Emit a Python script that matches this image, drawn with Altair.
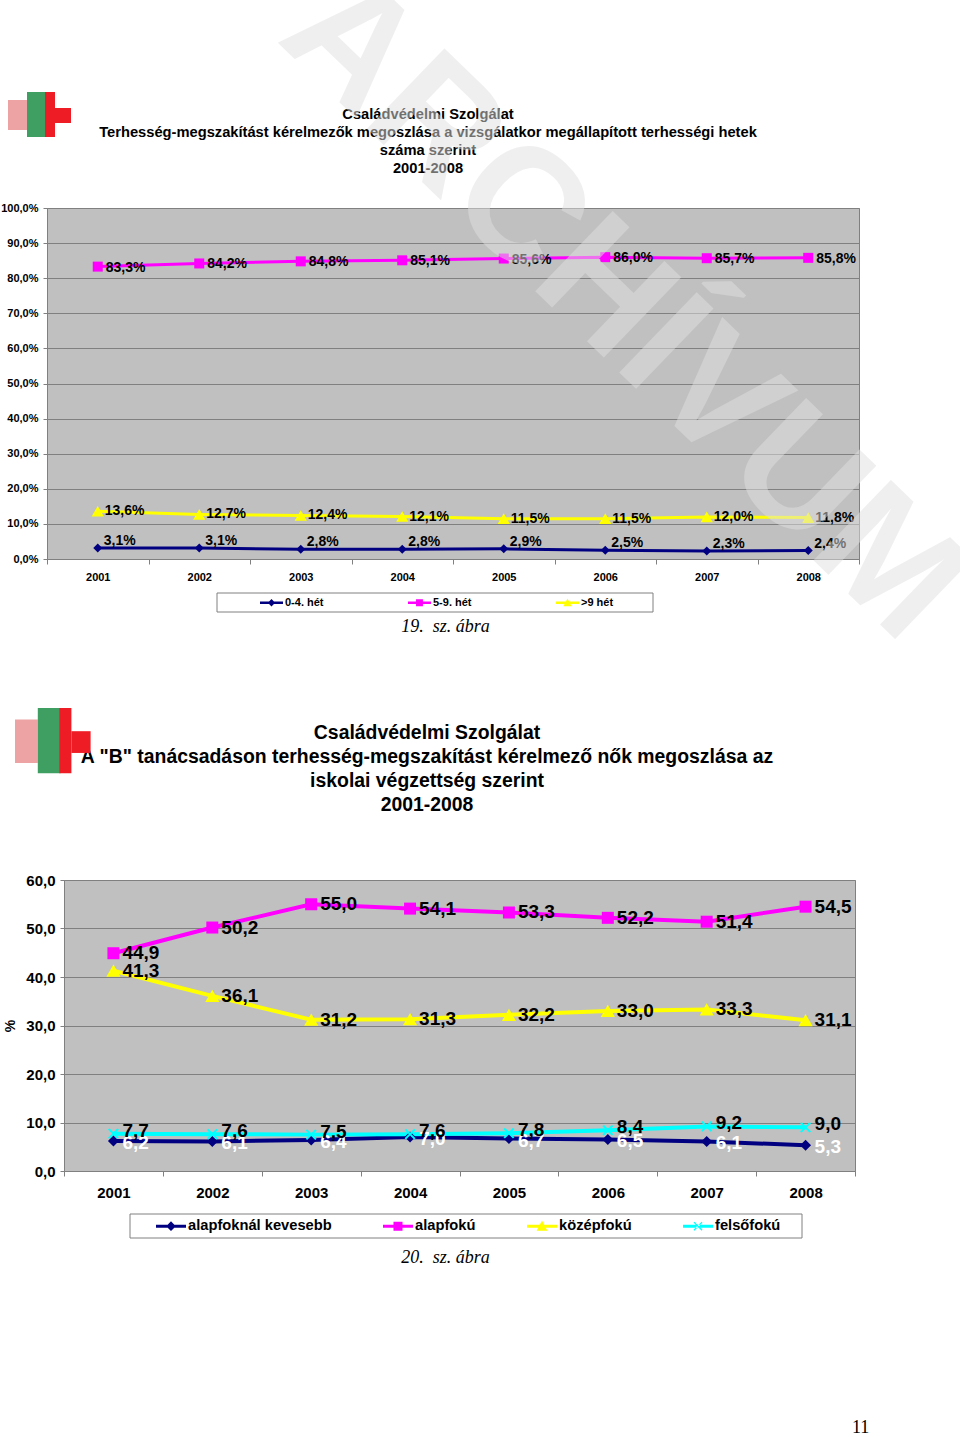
import altair as alt
import pandas as pd

SANS = "Liberation Sans"
SERIF = "Liberation Serif"
GRID = "#808080"

years = ["2001", "2002", "2003", "2004", "2005", "2006", "2007", "2008"]

# --- chart 19: gestational weeks ---
top_series = ["0-4. hét", "5-9. hét", ">9 hét"]
top_colors = ["#000080", "#FF00FF", "#FFFF00"]
wk_0_4 = [3.1, 3.1, 2.8, 2.8, 2.9, 2.5, 2.3, 2.4]
wk_5_9 = [83.3, 84.2, 84.8, 85.1, 85.6, 86.0, 85.7, 85.8]
wk_over_9 = [13.6, 12.7, 12.4, 12.1, 11.5, 11.5, 12.0, 11.8]
top_title = ["Családvédelmi Szolgálat",
             "Terhesség-megszakítást kérelmezők megoszlása a vizsgálatkor megállapított terhességi hetek",
             "száma szerint",
             "2001-2008"]
top_caption = "19.\u00a0 sz. ábra"

# --- chart 20: education ---
bot_series = ["alapfoknál kevesebb", "alapfokú", "középfokú", "felsőfokú"]
bot_colors = ["#000080", "#FF00FF", "#FFFF00", "#00FFFF"]
edu_below_basic = [6.2, 6.1, 6.4, 7.0, 6.7, 6.5, 6.1, 5.3]
edu_basic = [44.9, 50.2, 55.0, 54.1, 53.3, 52.2, 51.4, 54.5]
edu_secondary = [41.3, 36.1, 31.2, 31.3, 32.2, 33.0, 33.3, 31.1]
edu_higher = [7.7, 7.6, 7.5, 7.6, 7.8, 8.4, 9.2, 9.0]
bot_title = ["Családvédelmi Szolgálat",
             "A \"B\" tanácsadáson terhesség-megszakítást kérelmező nők megoszlása az",
             "iskolai végzettség szerint",
             "2001-2008"]
bot_caption = "20.\u00a0 sz. ábra"
page_number = "11"
watermark = "ARCHÍVUM"


def make_df(names, lists, suffix):
    rows = []
    for s, vals in zip(names, lists):
        for y, v in zip(years, vals):
            rows.append({"year": y, "series": s, "value": v,
                         "label": f"{v:.1f}".replace(".", ",") + suffix})
    return pd.DataFrame(rows)


top_df = make_df(top_series, [wk_0_4, wk_5_9, wk_over_9], "%")
bot_df = make_df(bot_series, [edu_below_basic, edu_basic, edu_secondary, edu_higher], "")
one = pd.DataFrame({"k": [0]})

# legend symbol paths: line segment + marker
P_LINE = "M-1,-0.1H1V0.1H-1Z"
P_DIAMOND = P_LINE + "M0,-0.32L0.32,0L0,0.32L-0.32,0Z"
P_SQUARE = P_LINE + "M-0.3,-0.3H0.3V0.3H-0.3Z"
P_TRI = P_LINE + "M0,-0.38L0.36,0.3H-0.36Z"
P_X = (P_LINE + "M-0.3,-0.24L-0.24,-0.3L0.3,0.24L0.24,0.3Z"
       "M0.3,-0.24L0.24,-0.3L-0.3,0.24L-0.24,0.3Z")
X_MARK = "M-1,-1L1,1M-1,1L1,-1"


def deco_rect(x, x2, y, y2, color, stroke=None):
    kw = {"fill": color}
    if stroke:
        kw.update(stroke=stroke, strokeWidth=1)
    return alt.Chart(one).mark_rect(**kw).encode(
        x=alt.value(x), x2=alt.value(x2), y=alt.value(y), y2=alt.value(y2))


def logo(x0, y0, sx, sy):
    # simplified logo: striped left arm, green face, red cross
    def r(a, b, c, d, col):
        return deco_rect(x0 + a * sx, x0 + b * sx, y0 + c * sy, y0 + d * sy, col)
    return [r(0, 19, 8, 38, "#eda3a3"), r(19, 38, 0, 45, "#3f9f63"),
            r(37, 47, 0, 45, "#ee1c24"), r(47, 63, 16, 31, "#ee1c24")]


def title_text(lines, x, y, fs, lh, weight):
    return alt.Chart(one).mark_text(text=lines, font=SANS, fontSize=fs, fontWeight=weight,
                                    lineHeight=lh, align="center", baseline="top",
                                    color="black").encode(x=alt.value(x), y=alt.value(y))


def build(df, names, colors, paths, marks, label_specs, cfg):
    xenc = alt.X("year:O", title=cfg["caption"], bandPosition=0.5,
                 scale=alt.Scale(type="band", paddingInner=0, paddingOuter=0),
                 axis=alt.Axis(labelAngle=0, labelFont=SANS, labelFontSize=cfg["xfs"],
                               labelFontWeight="bold", labelColor="black",
                               tickBand="extent", tickSize=5, tickColor=GRID,
                               domainColor=GRID, labelPadding=cfg["xlp"],
                               titleFont=SERIF, titleFontSize=18, titleFontStyle="italic",
                               titleFontWeight="normal", titleColor="black",
                               titlePadding=cfg["capPad"], titleX=cfg["capX"],
                               titleAlign="center"))
    yenc = alt.Y("value:Q", title=cfg["ytitle"],
                 scale=alt.Scale(domain=[0, cfg["ymax"]], nice=False, zero=True),
                 axis=alt.Axis(values=list(range(0, cfg["ymax"] + 1, 10)),
                               labelExpr=cfg["labelExpr"], labelFont=SANS,
                               labelFontSize=cfg["yfs"], labelFontWeight="bold",
                               labelColor="black", grid=True, gridColor=GRID,
                               gridWidth=1, tickSize=4, tickColor=GRID,
                               domainColor=GRID, labelPadding=cfg["ylp"],
                               titleFont=SANS, titleFontSize=14, titleFontWeight="bold",
                               titleColor="black", titlePadding=cfg["ytp"]))
    base = alt.Chart(df)
    layers = list(cfg.get("pre", []))
    for name, col in zip(names, colors):
        layers.append(base.transform_filter(alt.datum.series == name).mark_line(
            strokeWidth=cfg["lw"], color=col).encode(x=xenc, y=yenc))
    for name, col, (shape, size, filled) in zip(names, colors, marks):
        layers.append(base.transform_filter(alt.datum.series == name).mark_point(
            shape=shape, size=size, filled=filled, opacity=1, color=col,
            strokeWidth=2).encode(x=xenc, y=yenc))
    for name, (dx, dy, tcol) in zip(names, label_specs):
        layers.append(base.transform_filter(alt.datum.series == name).mark_text(
            align="left", baseline="middle", dx=dx, dy=dy, font=SANS,
            fontSize=cfg["lfs"], fontWeight="bold", color=tcol).encode(
            x=xenc, y=yenc, text="label:N"))
    bx = cfg["box"]
    layers.append(deco_rect(bx[0], bx[1], bx[2], bx[3], "white", GRID))
    leg = alt.Legend(title=None, orient="none", legendX=cfg["legX"], legendY=cfg["legY"],
                     direction="horizontal", columnPadding=cfg["colPad"], padding=0,
                     labelFont=SANS, labelFontSize=cfg["legfs"], labelFontWeight="bold",
                     labelColor="black", symbolSize=cfg["symSize"], symbolStrokeWidth=0,
                     symbolOpacity=1, labelOffset=2, zindex=2)
    cscale = alt.Scale(domain=names, range=colors)
    layers.append(base.transform_filter("false").mark_point(filled=True).encode(
        x=xenc, y=yenc,
        color=alt.Color("series:N", scale=cscale, legend=leg),
        shape=alt.Shape("series:N", scale=alt.Scale(domain=names, range=paths), legend=leg)))
    layers.extend(cfg.get("extra", []))
    return alt.layer(*layers).properties(width=cfg["w"], height=cfg["h"])


pct_expr = "replace(format(datum.value, '.1f'), '.', ',') + '%'"
num_expr = "replace(format(datum.value, '.1f'), '.', ',')"

# top plot origin on the page: (47, 208)
wm = alt.Chart(one).mark_text(text=watermark, angle=44, font=SANS, fontSize=162,
                              fontWeight="bold", color="#e0e0e0", opacity=0.5,
                              align="center", baseline="middle").encode(
    x=alt.value(576), y=alt.value(100))

top = build(
    top_df, top_series, top_colors, [P_DIAMOND, P_SQUARE, P_TRI],
    [("diamond", 81, True), ("square", 100, True), ("triangle-up", 150, True)],
    [(6, -7, "black"), (8, 1, "black"), (7, 0, "black")],
    dict(caption=top_caption, xfs=11, yfs=11, xlp=7, capPad=35, capX=398, ytitle=None,
         ymax=100, labelExpr=pct_expr, ylp=5, ytp=0, lw=3, lfs=14,
         box=(170, 606, 385, 404), legX=213, legY=383, colPad=84, legfs=11,
         symSize=529, w=812, h=351,
         pre=[title_text(top_title, 381, -101, 14.7, 18, "bold")] + logo(-39, -116, 1, 1),
         extra=[wm]))

# bottom plot origin on the page: (64, 880); its legend is placed from the row origin (47, 880)
pn = alt.Chart(one).mark_text(font=SERIF, fontSize=18, align="left", baseline="middle",
                              color="black").encode(
    x=alt.value(788), y=alt.value(548), text=alt.value(page_number))

bottom = build(
    bot_df, bot_series, bot_colors, [P_DIAMOND, P_SQUARE, P_TRI, P_X],
    [("diamond", 121, True), ("square", 144, True), ("triangle-up", 200, True),
     (X_MARK, 90, False)],
    [(9, 2, "white"), (9, 0, "black"), (9, 0, "black"), (9, -3, "black")],
    dict(caption=bot_caption, xfs=15, yfs=15, xlp=9, capPad=48, capX=381, ytitle="%",
         ymax=60, labelExpr=num_expr, ylp=5, ytp=8, lw=4, lfs=19,
         box=(66, 738, 334, 358), legX=109, legY=331, colPad=51, legfs=14.7,
         symSize=900, w=791, h=291,
         pre=[title_text(bot_title, 363, -156, 19.4, 24, "bold")],
         extra=logo(-49, -172, 1.2, 1.45) + [pn]))

spacer = alt.Chart(one).mark_point(opacity=0).encode(
    x=alt.value(0), y=alt.value(0)).properties(
    width=1, height=1, view=alt.ViewBackground(fill="transparent", stroke="transparent"))

bottom_row = alt.hconcat(spacer, bottom, spacing=16, bounds="flush")

chart = alt.vconcat(top, bottom_row, spacing=321, bounds="flush").resolve_scale(
    color="independent", shape="independent"
).resolve_legend(color="independent", shape="independent").properties(
    padding={"left": 47, "top": 208, "right": 913, "bottom": 1229},
    autosize=alt.AutoSizeParams(type="none"), background="white"
).configure_view(fill="#C0C0C0", stroke=GRID, strokeWidth=1)

chart.save("out.html", embed_options={"renderer": "svg", "actions": False})
